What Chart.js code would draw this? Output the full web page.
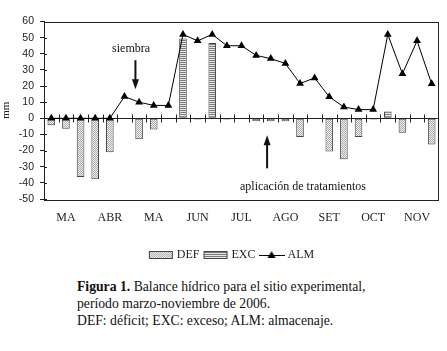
<!DOCTYPE html>
<html lang="es">
<head>
<meta charset="UTF-8">
<title>Balance hídrico</title>
<script src="https://cdn.jsdelivr.net/npm/chart.js"></script>
<style>
  body { margin: 0; background: #fff; }
  #wrap { position: relative; width: 447px; height: 351px; overflow: hidden; }
  #caption {
    position: absolute; left: 77px; top: 279px;
    font-family: "Liberation Serif", "Times New Roman", serif;
    font-size: 13.7px; line-height: 16.8px; color: #111;
  }
</style>
</head>
<body>
<div id="wrap">
  <canvas id="chart" width="447" height="272"></canvas>
  <div id="caption">
    <b>Figura 1.</b> Balance hídrico para el sitio experimental,<br>
    período marzo-noviembre de 2006.<br>
    DEF: déficit; EXC: exceso; ALM: almacenaje.
  </div>
</div>

<script>
// meses (3 decenios por mes)
const months = ["MA", "ABR", "MA", "JUN", "JUL", "AGO", "SET", "OCT", "NOV"];
const yTicks = [-50, -40, -30, -20, -10, 0, 10, 20, 30, 40, 50, 60];

const defValues = [-4.3, -6.4, -36.3, -37.7, -21, null, -13, -7, null,
                   null, -0.8, null, -0.8, null, -1.8, -1.8, -1.8, -11.5,
                   null, -20.6, -25.4, -11.5, -0.8, null, -8.9, null, -16.3];
const excValues = [null, null, null, null, null, null, null, null, null,
                   49.4, null, 46.7, null, null, null, null, null, null,
                   null, null, null, null, null, 4.3, null, null, null];
const almValues = [0, 0, 0, 0, 0, 13.5, 10, 8, 8,
                   52, 48, 52, 45, 45, 39, 37, 34, 21.6,
                   25, 13.3, 7, 5.4, 5.4, 52, 27.6, 48, 21.4];

// etiquetas de decenios: el mes va en el decenio central
const labels = [];
months.forEach(m => { labels.push("", m, ""); });

const serif = '"Liberation Serif", "Times New Roman", serif';
const sans = '"Liberation Sans", Arial, sans-serif';

// rellenos de las barras
function makePattern(w, h, draw) {
  const c = document.createElement("canvas");
  c.width = w; c.height = h;
  draw(c.getContext("2d"));
  return document.createElement("canvas").getContext("2d").createPattern(c, "repeat");
}
const defFill = makePattern(2, 2, g => {
  g.fillStyle = "#f4f4f4"; g.fillRect(0, 0, 2, 2);
  g.fillStyle = "#a8a8a8"; g.fillRect(0, 0, 1, 1); g.fillRect(1, 1, 1, 1);
});
const excFill = makePattern(1, 2, g => {
  g.fillStyle = "#7a7a7a"; g.fillRect(0, 0, 1, 1);
  g.fillStyle = "#e6e6e6"; g.fillRect(0, 1, 1, 1);
});

// simbolos de la leyenda
function legendIcon(draw) {
  const c = document.createElement("canvas");
  c.width = 26; c.height = 10;
  draw(c.getContext("2d"));
  return c;
}
const defIcon = legendIcon(g => {
  g.fillStyle = defFill; g.fillRect(1, 1, 24, 8);
  g.strokeStyle = "#444"; g.lineWidth = 1; g.strokeRect(1.5, 1.5, 23, 7);
});
const excIcon = legendIcon(g => {
  g.fillStyle = excFill; g.fillRect(1, 1, 24, 8);
  g.strokeStyle = "#444"; g.lineWidth = 1; g.strokeRect(1.5, 1.5, 23, 7);
});
const almIcon = legendIcon(g => {
  g.strokeStyle = "#000"; g.lineWidth = 1;
  g.beginPath(); g.moveTo(0, 5.5); g.lineTo(26, 5.5); g.stroke();
  g.fillStyle = "#000";
  g.beginPath(); g.moveTo(13, 1); g.lineTo(17, 8); g.lineTo(9, 8); g.closePath(); g.fill();
});

// anotaciones (en unidades de los ejes)
const siembra = { x: 5.75, textY: 43, from: 36, to: 18 };
const aplicacion = { x: 14.75, textX: 17.2, textY: -42.5, from: -31, to: -10.5 };

function arrow(ctx, x, y1, y2) {
  const dir = y2 > y1 ? 1 : -1;
  ctx.beginPath();
  ctx.moveTo(x, y1); ctx.lineTo(x, y2 - dir * 8); ctx.stroke();
  ctx.beginPath();
  ctx.moveTo(x, y2); ctx.lineTo(x - 3.5, y2 - dir * 10); ctx.lineTo(x + 3.5, y2 - dir * 10);
  ctx.closePath(); ctx.fill();
}

const decor = {
  id: "decor",
  afterLayout(chart) {
    // la leyenda del original esta algo corrida a la derecha
    if (chart.legend) { chart.legend.left += 13; chart.legend.right += 13; }
  },
  beforeDatasetsDraw(chart) {
    const { ctx, chartArea: a, scales: { x, y } } = chart;
    const y0 = Math.round(y.getPixelForValue(0)) + 0.5;
    ctx.save();
    ctx.strokeStyle = "#222";
    ctx.lineWidth = 1;
    ctx.beginPath();
    ctx.moveTo(a.left, y0); ctx.lineTo(a.right, y0);
    // marcas entre decenios sobre la linea cero
    for (let i = 0; i < labels.length; i++) {
      const px = Math.round(x.getPixelForValue(i - 0.5)) + 0.5;
      ctx.moveTo(px, y0 - 4); ctx.lineTo(px, y0 + 4);
    }
    // marcas del eje y hacia adentro
    yTicks.forEach(v => {
      const py = Math.round(y.getPixelForValue(v)) + 0.5;
      ctx.moveTo(a.left, py); ctx.lineTo(a.left + 3, py);
    });
    ctx.stroke();
    ctx.restore();
  },
  afterDraw(chart) {
    const { ctx, chartArea: a, scales: { x, y } } = chart;
    ctx.save();
    ctx.strokeStyle = "#222";
    ctx.lineWidth = 1;
    ctx.strokeRect(Math.round(a.left) + 0.5, Math.round(a.top) + 0.5,
                   Math.round(a.right - a.left) - 1, Math.round(a.bottom - a.top));
    ctx.fillStyle = "#111";
    ctx.strokeStyle = "#111";
    ctx.lineWidth = 2;
    ctx.font = "12px " + serif;
    ctx.textAlign = "center";
    ctx.textBaseline = "middle";
    ctx.fillText("siembra", x.getPixelForValue(siembra.x - 0.3), y.getPixelForValue(siembra.textY));
    arrow(ctx, x.getPixelForValue(siembra.x), y.getPixelForValue(siembra.from), y.getPixelForValue(siembra.to));
    ctx.fillText("aplicación de tratamientos", x.getPixelForValue(aplicacion.textX), y.getPixelForValue(aplicacion.textY));
    arrow(ctx, x.getPixelForValue(aplicacion.x), y.getPixelForValue(aplicacion.from), y.getPixelForValue(aplicacion.to));
    ctx.restore();
  }
};

new Chart(document.getElementById("chart"), {
  data: {
    labels: labels,
    datasets: [
      {
        type: "line", label: "ALM", data: almValues, order: 0,
        borderColor: "#000", borderWidth: 1, backgroundColor: "#000",
        pointStyle: "triangle", pointRadius: 4.5, pointBorderWidth: 0,
        pointBackgroundColor: "#000", tension: 0
      },
      {
        type: "bar", label: "DEF", data: defValues, order: 1,
        backgroundColor: defFill, borderColor: "#444", borderWidth: 1,
        borderSkipped: false, grouped: false,
        barPercentage: 0.52, categoryPercentage: 1
      },
      {
        type: "bar", label: "EXC", data: excValues, order: 2,
        backgroundColor: excFill, borderColor: "#444", borderWidth: 1,
        borderSkipped: false, grouped: false,
        barPercentage: 0.52, categoryPercentage: 1
      }
    ]
  },
  options: {
    responsive: false,
    animation: false,
    layout: { padding: { left: 0, right: 8, top: 21.5, bottom: 1 } },
    scales: {
      x: {
        afterFit(scale) { scale.height = 44; },
        grid: { display: false },
        border: { display: false },
        ticks: {
          autoSkip: false, maxRotation: 0, padding: 4,
          color: "#222", font: { family: serif, size: 12 }
        }
      },
      y: {
        min: -50, max: 60,
        afterFit(scale) { scale.width = 44; },
        afterBuildTicks(scale) { scale.ticks = yTicks.map(v => ({ value: v })); },
        grid: { drawOnChartArea: false, tickLength: 4, color: "#222" },
        border: { display: true, color: "#222" },
        ticks: { color: "#222", padding: 6, font: { family: sans, size: 10.5 } },
        title: {
          display: true, text: "mm", color: "#222",
          font: { family: serif, size: 11 }, padding: { top: 0, bottom: 0, y: 4 }
        }
      }
    },
    plugins: {
      tooltip: { enabled: false },
      legend: {
        position: "bottom",
        labels: {
          usePointStyle: true, pointStyleWidth: 20, boxHeight: 10,
          padding: 6, color: "#222",
          font: { family: serif, size: 12 },
          generateLabels() {
            const icons = { DEF: defIcon, EXC: excIcon, ALM: almIcon };
            const order = [1, 2, 0];
            return ["DEF", "EXC", "ALM"].map((t, i) => ({
              text: t, pointStyle: icons[t], datasetIndex: order[i],
              hidden: false, fillStyle: "#000", strokeStyle: "#000",
              lineWidth: 0, fontColor: "#222"
            }));
          }
        }
      }
    }
  },
  plugins: [decor]
});
</script>
</body>
</html>
